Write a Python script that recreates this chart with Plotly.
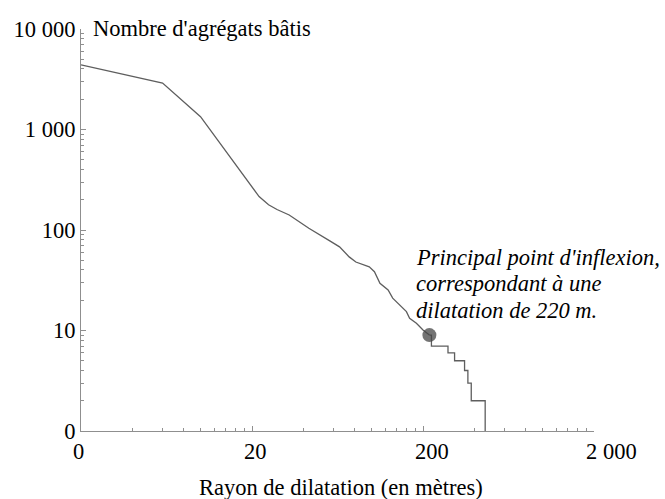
import plotly.graph_objects as go
import math

# ---- data ----
radius_smooth = [2, 6, 10, 12, 14, 16, 18, 20, 22, 25, 28, 33, 43, 57, 65, 74, 81,
                 97, 104, 112, 125, 133, 146, 160, 167, 183, 200, 218]
count_smooth = [4400, 2900, 1340, 880, 610, 445, 345, 265, 215, 178, 160, 141, 104,
                78, 68, 54, 48, 43, 38.5, 29.5, 25.3, 21, 17.9, 15.4, 13.2, 11.8, 10.1, 9]

radius_steps = [218, 224, 280, 306, 350, 366, 383, 462]
count_steps = [9, 7, 6, 5, 4, 3, 2, 1]

inflexion_radius = [218]
inflexion_count = [9]

x_tickvals = [2, 20, 200, 2000]
x_ticktext = ["0", "20", "200", "2 000"]
y_tickvals = [1, 10, 100, 1000, 10000]
y_ticktext = ["0", "10", "100", "1 000", "10 000"]

note_lines = ["Principal point d'inflexion,", "correspondant à une", "dilatation de 220 m."]

x_minor = [m * d for d in (1, 10, 100) for m in range(4, 20, 2)]
y_minor = [m * d for d in (1, 10, 100, 1000) for m in range(2, 10)]

FONT = "Liberation Serif, DejaVu Serif, Times New Roman, serif"
FS = 22.5
LINE_COL = "#5e5e5e"
AXIS_COL = "#8f8f8f"

fig = go.Figure()
fig.add_trace(go.Scatter(x=radius_smooth, y=count_smooth, mode="lines",
                         line=dict(color=LINE_COL, width=1.3), showlegend=False))
fig.add_trace(go.Scatter(x=radius_steps, y=count_steps, mode="lines",
                         line=dict(color=LINE_COL, width=1.3, shape="hv"), showlegend=False))
fig.add_trace(go.Scatter(x=inflexion_radius, y=inflexion_count, mode="markers",
                         marker=dict(color="rgba(70,70,70,0.75)", size=14, line=dict(width=0)),
                         showlegend=False))

fig.update_xaxes(type="log", range=[math.log10(2), math.log10(2000)],
                 tickmode="array", tickvals=x_tickvals, ticktext=x_ticktext,
                 ticks="inside", ticklen=5, tickwidth=1, tickcolor=AXIS_COL,
                 minor=dict(tickmode="array", tickvals=x_minor, ticks="inside",
                            ticklen=3, tickcolor=AXIS_COL, showgrid=False),
                 showline=True, linecolor=AXIS_COL, linewidth=1.2,
                 showgrid=False, zeroline=False,
                 ticklabelposition="outside right", ticklabelshift=-9,
                 tickfont=dict(family=FONT, size=FS, color="black"))
fig.update_yaxes(type="log", range=[0, 4],
                 tickmode="array", tickvals=y_tickvals, ticktext=y_ticktext,
                 ticks="inside", ticklen=5, tickwidth=1, tickcolor=AXIS_COL,
                 minor=dict(tickmode="array", tickvals=y_minor, ticks="inside",
                            ticklen=3, tickcolor=AXIS_COL, showgrid=False),
                 showline=True, linecolor=AXIS_COL, linewidth=1.2,
                 showgrid=False, zeroline=False,
                 tickfont=dict(family=FONT, size=FS, color="black"))

fig.add_annotation(xref="paper", yref="paper", x=0, y=1, xanchor="left", yanchor="middle",
                   xshift=10, yshift=1, showarrow=False,
                   text="Nombre d'agrégats bâtis",
                   font=dict(family=FONT, size=FS, color="black"))
fig.add_annotation(xref="paper", yref="paper", x=0.5, y=0, xanchor="center", yanchor="middle",
                   xshift=3, yshift=-56, showarrow=False,
                   text="Rayon de dilatation (en mètres)",
                   font=dict(family=FONT, size=FS, color="black"))
note_x = math.log10(2) + (414 - 81) / 171.0
for i, line in enumerate(note_lines):
    fig.add_annotation(xref="x", yref="paper", x=note_x, y=1,
                       yshift=-(257 - 29) - 26.7 * i,
                       xanchor="left", yanchor="middle", align="left", showarrow=False,
                       text="<i>" + line + "</i>",
                       font=dict(family=FONT, size=FS, color="black"))

fig.update_layout(width=665, height=499, margin=dict(l=81, r=71, t=29, b=68),
                  paper_bgcolor="white", plot_bgcolor="white",
                  font=dict(family=FONT))

fig.write_html("out.html")
